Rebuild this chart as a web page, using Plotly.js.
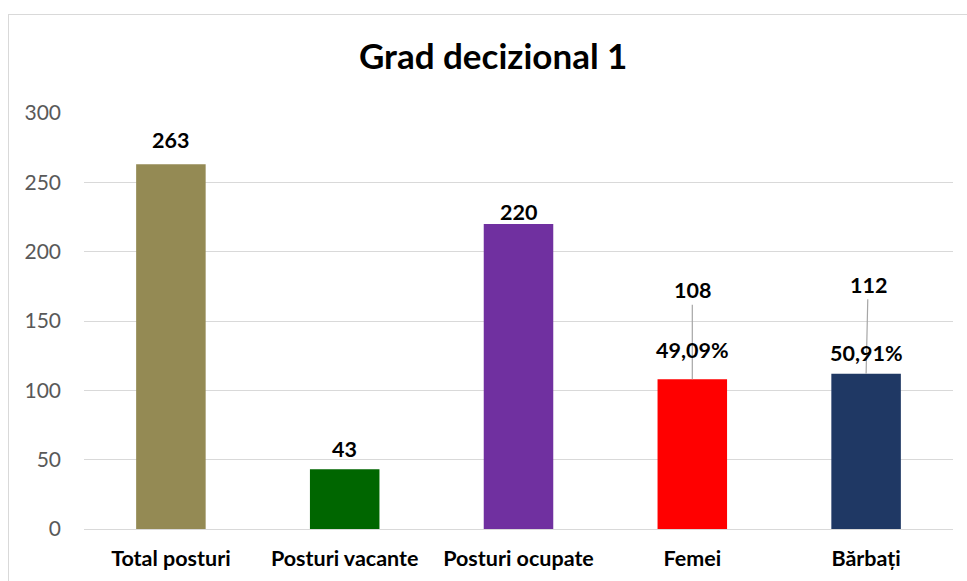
<!DOCTYPE html>
<html>
<head>
<meta charset="utf-8">
<script src="https://cdn.plot.ly/plotly-3.0.1.min.js"></script>
<style>
html,body{margin:0;padding:0;background:#fff;overflow:hidden;}
#frame{position:absolute;left:8px;top:14px;width:1100px;height:700px;border:1px solid #D9D9D9;box-sizing:border-box;}
#chart{position:absolute;left:0;top:0;width:967px;height:581px;}
</style>
</head>
<body>
<div id="frame"></div>
<div id="chart"></div>
<script>
const categories = ["Total posturi", "Posturi vacante", "Posturi ocupate", "Femei", "Bărbați"];
const values = [263, 43, 220, 108, 112];
const percentLabels = ["", "", "", "49,09%", "50,91%"];
const barColors = ["#948A54", "#006600", "#7030A0", "#FF0000", "#1F3864"];
const yTicks = [0, 50, 100, 150, 200, 250, 300];

const FONT = "Lato, 'Open Sans', sans-serif";
// label placement (pixels above bar top)
const labelShift = [24, 20, 12, 0, 0];
const leader = [null, null, null, {ax: 0, ay: -89}, {ax: 2, ay: -89}];
const pctShift = [0, 0, 0, 29, 21];
const LABEL_SIZE = 21.5;

const trace = {
  type: "bar",
  x: categories,
  y: values,
  marker: {color: barColors, line: {width: 0}},
  width: 0.4,
  hoverinfo: "none"
};

const annotations = [];
categories.forEach((c, i) => {
  if (leader[i]) {
    annotations.push({
      x: c, y: values[i], xref: "x", yref: "y",
      text: String(values[i]), showarrow: true,
      ax: leader[i].ax, ay: leader[i].ay,
      arrowhead: 0, arrowwidth: 1.2, arrowcolor: "#A6A6A6", standoff: 0,
      font: {family: FONT, size: LABEL_SIZE, color: "#000", weight: "bold"}
    });
    annotations.push({
      x: c, y: values[i], xref: "x", yref: "y",
      text: percentLabels[i], showarrow: false,
      yanchor: "middle", yshift: pctShift[i],
      font: {family: FONT, size: LABEL_SIZE, color: "#000", weight: "bold"}
    });
  } else {
    annotations.push({
      x: c, y: values[i], xref: "x", yref: "y",
      text: String(values[i]), showarrow: false,
      yanchor: "middle", yshift: labelShift[i],
      font: {family: FONT, size: LABEL_SIZE, color: "#000", weight: "bold"}
    });
  }
});

const layout = {
  width: 967, height: 581,
  margin: {l: 84, r: 14, t: 113, b: 52},
  paper_bgcolor: "rgba(0,0,0,0)",
  plot_bgcolor: "rgba(0,0,0,0)",
  title: {
    text: "<b>Grad decizional 1</b>",
    font: {family: FONT, size: 35, color: "#000"},
    x: 0.51, xanchor: "center", y: 0.902, yanchor: "middle"
  },
  xaxis: {
    tickfont: {family: FONT, size: 21.5, color: "#000", weight: "bold"},
    showgrid: false, showline: true, linecolor: "#D9D9D9", linewidth: 1,
    ticks: "", ticklabelstandoff: 10, fixedrange: true
  },
  yaxis: {
    range: [0, 300], tickvals: yTicks,
    tickfont: {family: FONT, size: 21, color: "#595959"},
    showgrid: true, gridcolor: "#D9D9D9", gridwidth: 1,
    zeroline: false, showline: false, ticks: "",
    ticklabelstandoff: 22, fixedrange: true
  },
  annotations: annotations,
  showlegend: false,
  bargap: 0.6
};

Plotly.newPlot("chart", [trace], layout, {displayModeBar: false, staticPlot: true});
</script>
</body>
</html>
